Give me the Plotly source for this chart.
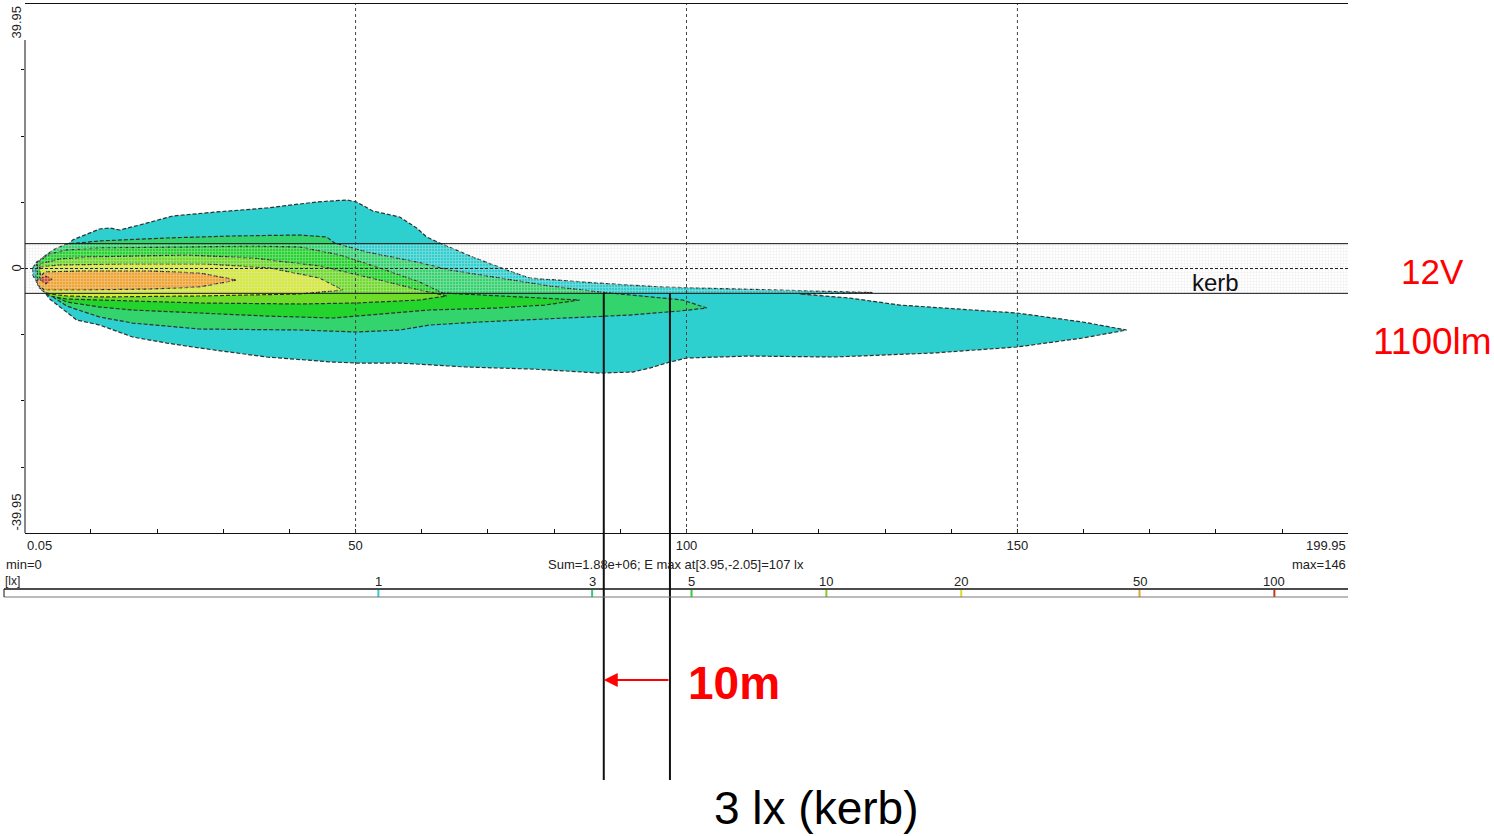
import numpy as np
import plotly.graph_objects as go

W, H = 1494, 836
FONT = "Liberation Sans, Arial, sans-serif"

# ---- isolux levels [lx] ----
levels = [1, 3, 5, 10, 20, 50, 100]
level_fill = ["#2ecfcf", "#33d46e", "#22d42c", "#6fdc2a", "#d6ea3a", "#f2a42e", "#e24a2a"]
level_tick = ["#33cccc", "#33cc77", "#33cc33", "#88cc22", "#dddd22", "#e8a030", "#cc3322"]
e_max = 146

# ---- isolux boundaries, (x [m], y [m]) ----
iso_1 = [(1.21, 0.08), (1.81, 0.98), (3.78, 2.34), (6.35, 3.40), (7.25, 4.31), (11.33, 5.97),
         (12.84, 6.12), (14.35, 5.82), (17.38, 6.57), (22.36, 7.93), (29.01, 8.54), (36.56, 9.14),
         (44.12, 10.05), (48.65, 10.35), (50.16, 10.05), (52.58, 8.69), (56.66, 7.78), (59.23, 6.12),
         (60.74, 4.76), (62.71, 3.85), (67.69, 1.74), (72.83, -0.23), (76.31, -1.44), (86.43, -2.19),
         (96.40, -2.80), (106.52, -3.10), (117.10, -3.40), (128.13, -3.63), (117.10, -3.85),
         (124.66, -4.46), (132.21, -5.52), (141.28, -6.12), (149.89, -6.72), (159.86, -8.08),
         (166.51, -9.29), (159.86, -10.50), (149.89, -11.86), (137.20, -12.77), (122.09, -13.37),
         (109.55, -13.22), (100.03, -13.52), (97.46, -14.13), (94.44, -15.04), (91.87, -15.64),
         (86.89, -15.79), (76.77, -15.19), (66.79, -14.88), (56.66, -14.28), (50.16, -14.28),
         (46.54, -14.13), (36.56, -13.37), (26.44, -12.01), (21.46, -11.26), (16.32, -10.35),
         (11.33, -8.54), (7.86, -7.78), (3.78, -4.60), (1.81, -2.04), (1.21, -0.98)]

iso_3 = [(1.66, 0.38), (3.02, 1.89), (4.53, 2.95), (6.35, 3.70), (11.33, 4.16), (21.46, 4.61),
         (31.43, 4.91), (41.55, 5.06), (45.63, 4.76), (46.84, 3.85), (51.68, 2.49), (59.23, 0.98),
         (64.22, -0.23), (71.77, -1.44), (79.33, -2.64), (86.88, -3.55), (91.87, -4.00),
         (99.43, -4.76), (103.05, -5.97), (98.97, -6.42), (91.42, -7.03), (81.29, -7.48),
         (68.75, -8.08), (61.20, -8.54), (56.66, -9.29), (50.16, -9.59), (41.55, -9.29),
         (26.44, -9.14), (16.32, -8.24), (11.33, -7.33), (6.35, -5.67), (4.08, -4.16),
         (2.27, -2.95), (1.66, -1.44)]

iso_5 = [(1.96, 0.98), (3.78, 2.19), (6.35, 2.80), (11.33, 3.10), (24.52, 3.25), (34.44, 3.40),
         (41.55, 3.25), (47.60, 2.04), (53.64, 0.08), (59.68, -2.04), (63.17, -3.70),
         (71.77, -4.15), (77.82, -4.46), (83.86, -4.76), (78.57, -5.52), (71.31, -5.97),
         (61.20, -6.27), (50.16, -7.18), (46.54, -7.48), (36.56, -7.18), (26.44, -6.72),
         (16.32, -6.27), (11.33, -5.82), (6.35, -5.06), (4.08, -4.00), (2.57, -2.79), (1.96, -1.44)]

iso_10 = [(2.27, 0.68), (5.29, 1.44), (9.37, 1.74), (24.52, 2.04), (34.44, 1.59), (44.57, 0.38),
          (53.64, -1.74), (59.68, -3.25), (63.77, -4.15), (59.68, -4.76), (50.16, -5.21),
          (41.55, -5.36), (26.44, -5.21), (16.32, -4.91), (11.33, -4.76), (6.35, -4.61),
          (3.78, -4.15), (2.57, -3.25)]

iso_20 = [(2.27, 0.23), (5.29, 0.53), (14.35, 0.68), (27.50, 0.68), (37.02, 0.08),
          (44.57, -1.44), (48.05, -3.25), (41.55, -3.85), (26.44, -4.15), (16.32, -4.30),
          (11.33, -4.30), (6.35, -4.15), (3.78, -3.85), (2.57, -3.25)]

iso_50 = [(1.96, -1.74), (3.02, -0.53), (8.31, -0.38), (18.88, -0.38), (26.43, -0.68),
          (32.02, -1.74), (26.43, -2.79), (18.88, -3.10), (8.31, -3.25), (3.02, -3.25), (1.96, -2.49)]

iso_100 = [(2.27, -1.59), (3.17, -1.13), (4.08, -1.59), (3.17, -2.34)]

# ---- road geometry / reading aids ----
x_range = [0.05, 199.95]
y_range = [-39.95, 39.95]
kerb_half = 3.75
grid_x = [50, 100, 150]
kerb_3lx_x = [87.5, 97.5]

# ---- layout placement (figure pixels -> paper) ----
PX = lambda px: px / W
PY = lambda py: 1 - py / H
x_dom = [PX(25), PX(1348)]
y_dom = [PY(533), PY(4)]


def y_paper(v):
    return y_dom[0] + (v - y_range[0]) / (y_range[1] - y_range[0]) * (y_dom[1] - y_dom[0])


fig = go.Figure()

# filled isolux areas, lowest level first
for poly, col in zip([iso_1, iso_3, iso_5, iso_10, iso_20, iso_50, iso_100], level_fill):
    xs = [p[0] for p in poly] + [poly[0][0]]
    ys = [p[1] for p in poly] + [poly[0][1]]
    fig.add_trace(go.Scatter(
        x=xs, y=ys, mode="lines", fill="toself", fillcolor=col,
        line=dict(color="#303030", width=1.2, dash="4px,2px"),
        hoverinfo="skip", showlegend=False))

# kerb strip with grid hatching
fig.add_trace(go.Scatter(
    x=[x_range[0], x_range[1], x_range[1], x_range[0], x_range[0]],
    y=[kerb_half, kerb_half, -kerb_half, -kerb_half, kerb_half],
    mode="lines", fill="toself", fillcolor="rgba(0,0,0,0)",
    fillpattern=dict(shape="+", size=3, solidity=0.45,
                     fgcolor="rgba(228,228,228,0.9)", bgcolor="rgba(0,0,0,0)"),
    line=dict(width=0), hoverinfo="skip", showlegend=False))

shapes = []
# kerb edges and centre line
for yy in (kerb_half, -kerb_half):
    shapes.append(dict(type="line", xref="x", yref="y", x0=x_range[0], x1=x_range[1], y0=yy, y1=yy,
                       line=dict(color="#111", width=1), layer="above"))
shapes.append(dict(type="line", xref="x", yref="y", x0=x_range[0], x1=x_range[1], y0=0, y1=0,
                   line=dict(color="#222", width=1, dash="3px,2px"), layer="above"))
# vertical distance grid
for gx in grid_x:
    shapes.append(dict(type="line", xref="x", yref="y", x0=gx, x1=gx, y0=y_range[0], y1=y_range[1],
                       line=dict(color="#444", width=1, dash="3px,3px"), layer="above"))
# left axis line (stops below the top label)
shapes.append(dict(type="line", xref="paper", yref="paper", x0=x_dom[0], x1=x_dom[0],
                   y0=y_dom[0], y1=PY(40), line=dict(color="#111", width=1)))
# 3 lx at kerb markers
for mx in kerb_3lx_x:
    shapes.append(dict(type="line", xref="x", yref="paper", x0=mx, x1=mx,
                       y0=y_paper(-kerb_half), y1=PY(780), line=dict(color="#111", width=2),
                       layer="above"))
# scale bar frame
shapes.append(dict(type="line", xref="paper", yref="paper", x0=PX(4), x1=PX(1348), y0=PY(589), y1=PY(589),
                   line=dict(color="#111", width=1.5)))
shapes.append(dict(type="line", xref="paper", yref="paper", x0=PX(4), x1=PX(1348), y0=PY(597), y1=PY(597),
                   line=dict(color="#777", width=1)))
shapes.append(dict(type="line", xref="paper", yref="paper", x0=PX(4), x1=PX(4), y0=PY(589), y1=PY(597),
                   line=dict(color="#111", width=1)))

# scale bar level ticks on a log axis
fig.add_trace(go.Scatter(
    x=levels, y=[0.5] * len(levels), xaxis="x2", yaxis="y2", mode="markers",
    marker=dict(symbol="line-ns", size=7, line=dict(color=level_tick, width=2)),
    hoverinfo="skip", showlegend=False))

small = dict(family=FONT, size=13, color="#222")
ann = []
for lv in levels:
    ann.append(dict(x=np.log10(lv), xref="x2", y=PY(581), yref="paper", text=str(lv),
                    showarrow=False, font=small, xanchor="center", yanchor="middle"))
ann += [
    dict(x=PX(4), y=PY(564), xref="paper", yref="paper", text="min=0", showarrow=False,
         font=small, xanchor="left", yanchor="middle"),
    dict(x=PX(3), y=PY(581), xref="paper", yref="paper", text="[lx]", showarrow=False,
         font=dict(family=FONT, size=12, color="#222"), xanchor="left", yanchor="middle"),
    dict(x=PX(676), y=PY(564), xref="paper", yref="paper",
         text="Sum=1.88e+06; E max at[3.95,-2.05]=107 lx", showarrow=False,
         font=small, xanchor="center", yanchor="middle"),
    dict(x=PX(1348), y=PY(564), xref="paper", yref="paper", text=f"max={e_max}", showarrow=False,
         font=small, xanchor="right", yanchor="middle"),
    dict(x=x_range[0], xref="x", y=PY(545), yref="paper", text="0.05", showarrow=False,
         font=small, xanchor="left", yanchor="middle"),
    dict(x=x_range[1], xref="x", y=PY(545), yref="paper", text="199.95", showarrow=False,
         font=small, xanchor="right", yanchor="middle"),
    dict(x=PX(16), xref="paper", y=y_range[1], yref="y", text="39.95", textangle=-90,
         showarrow=False, font=small, xanchor="center", yanchor="top"),
    dict(x=PX(16), xref="paper", y=0, yref="y", text="0", textangle=-90,
         showarrow=False, font=small, xanchor="center", yanchor="middle"),
    dict(x=PX(16), xref="paper", y=y_range[0], yref="y", text="-39.95", textangle=-90,
         showarrow=False, font=small, xanchor="center", yanchor="bottom"),
    dict(x=PX(1215), y=PY(282), xref="paper", yref="paper", text="kerb", showarrow=False,
         font=dict(family=FONT, size=24, color="#111"), xanchor="center", yanchor="middle"),
    dict(x=PX(1432), y=PY(272), xref="paper", yref="paper", text="12V", showarrow=False,
         font=dict(family=FONT, size=35, color="#ff0000"), xanchor="center", yanchor="middle"),
    dict(x=PX(1432), y=PY(341), xref="paper", yref="paper", text="1100lm", showarrow=False,
         font=dict(family=FONT, size=37, color="#ff0000"), xanchor="center", yanchor="middle"),
    # 10 m arrow between the two 3 lx markers
    dict(x=kerb_3lx_x[0], xref="x", y=PY(680), yref="paper", ax=kerb_3lx_x[1], axref="x",
         ay=0, ayref="pixel", text="", showarrow=True, arrowhead=2, arrowsize=1.4,
         arrowwidth=2, arrowcolor="#ff0000", standoff=0, startstandoff=0),
    dict(x=PX(734), y=PY(683), xref="paper", yref="paper", text="<b>10m</b>", showarrow=False,
         font=dict(family=FONT, size=46, color="#ff0000"), xanchor="center", yanchor="middle"),
    dict(x=PX(816), y=PY(808), xref="paper", yref="paper", text="3 lx (kerb)", showarrow=False,
         font=dict(family=FONT, size=46, color="#000"), xanchor="center", yanchor="middle"),
]

fig.update_layout(
    width=W, height=H, margin=dict(l=0, r=0, t=0, b=0),
    paper_bgcolor="white", plot_bgcolor="white",
    font=dict(family=FONT, size=13, color="#222"),
    xaxis=dict(domain=x_dom, range=x_range, anchor="y", showgrid=False, zeroline=False,
               showline=True, linecolor="#111", linewidth=1, mirror=True,
               ticks="inside", ticklen=4, tickcolor="#111",
               tickvals=list(range(10, 200, 10)),
               ticktext=[str(v) if v in grid_x else "" for v in range(10, 200, 10)],
               tickfont=small, ticklabelstandoff=0),
    yaxis=dict(domain=y_dom, range=y_range, anchor="x", showgrid=False, zeroline=False,
               showline=False, ticks="outside", ticklen=3, tickcolor="#111",
               tickvals=list(range(-30, 40, 10)), showticklabels=False),
    xaxis2=dict(domain=[PX(4), PX(1348)], type="log",
                range=[np.log10(e_max) - 3, np.log10(e_max)], anchor="y2", visible=False),
    yaxis2=dict(domain=[PY(597), PY(590)], range=[0, 1], anchor="x2", visible=False),
    shapes=shapes, annotations=ann,
)

fig.write_html("out.html")
